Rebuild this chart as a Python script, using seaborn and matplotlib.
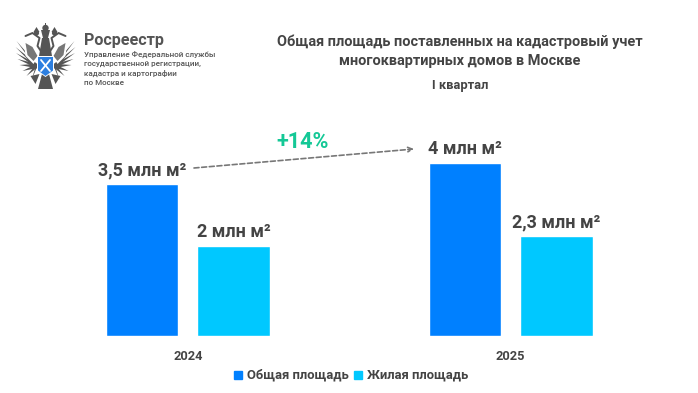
import numpy as np
import pandas as pd
import matplotlib
matplotlib.use('Agg')
import matplotlib.pyplot as plt
from matplotlib.patches import Polygon, Circle, Rectangle
import seaborn as sns

years = ['2024', '2025']
series_names = ['Общая площадь', 'Жилая площадь']
total_area = [3.5, 4.0]
living_area = [2.07, 2.3]
total_labels = ['3,5 млн м²', '4 млн м²']
living_labels = ['2 млн м²', '2,3 млн м²']
growth_label = '+14%'

colors = ['#0080ff', '#00c8ff']
text_color = '#444444'
W, H = 698, 393

df = pd.DataFrame({
    'year': years * 2,
    'area': total_area + living_area,
    'series': [series_names[0]] * 2 + [series_names[1]] * 2,
})

sns.set_theme(style='white')
plt.rcParams['font.family'] = ['Roboto', 'DejaVu Sans']

fig = plt.figure(figsize=(W / 100, H / 100), dpi=100, facecolor='white')
# оси: ноль на y=336 px, 43.3 px на единицу, центры групп на 187.7 и 510.7 px
ax = fig.add_axes([0, (H - 336) / H, 1, 236 / H])
sns.barplot(data=df, x='year', y='area', hue='series', palette=colors,
            order=years, hue_order=series_names, width=0.566, gap=0.205,
            saturation=1, legend=False, ax=ax)
ax.set_xlim(-187.7 / 323, (W - 187.7) / 323)
ax.set_ylim(0, 236 / 43.3)
ax.set_xlabel('')
ax.set_ylabel('')
ax.set_yticks([])
ax.tick_params(axis='x', length=0, pad=10, labelsize=9.2, labelcolor=text_color)
for lab in ax.get_xticklabels():
    lab.set_fontweight('bold')
sns.despine(ax=ax, left=True, bottom=True)

# подписи над столбцами
for cont, labels in zip(ax.containers, [total_labels, living_labels]):
    ax.bar_label(cont, labels=labels, padding=3.8, fontsize=13, fontweight='bold',
                 color=text_color)

# стрелка +14%
ax.annotate('', xy=(414 / W, (H - 149) / H), xytext=(194 / W, (H - 168) / H),
            xycoords='figure fraction', textcoords='figure fraction',
            arrowprops=dict(arrowstyle='->', color='#777777', lw=1.2,
                            linestyle=(0, (3, 1.6)), shrinkA=0, shrinkB=0,
                            mutation_scale=8))
fig.text(303 / W, 1 - 141.5 / H, growth_label, ha='center', va='center',
         fontsize=15.6, fontweight='bold', color='#14c896')

# заголовок
fig.text(460 / W, 1 - 42 / H, 'Общая площадь поставленных на кадастровый учет',
         ha='center', va='center', fontsize=10.45, fontweight='bold', color=text_color)
fig.text(460 / W, 1 - 61 / H, 'многоквартирных домов в Москве',
         ha='center', va='center', fontsize=10.45, fontweight='bold', color=text_color)
fig.text(460 / W, 1 - 85 / H, 'I квартал',
         ha='center', va='center', fontsize=9.3, fontweight='bold', color=text_color)

# легенда
for x0, name, col in zip([234, 354], series_names, colors):
    fig.patches.append(Rectangle((x0 / W, 1 - 379 / H), 8 / W, 8 / H,
                                 transform=fig.transFigure, color=col))
    fig.text((x0 + 13) / W, 1 - 375 / H, name, ha='left', va='center',
             fontsize=9.35, fontweight='bold', color=text_color)

# логотип
logo = fig.add_axes([0, 1 - 100 / H, 100 / W, 100 / H])
logo.set_xlim(0, 100)
logo.set_ylim(100, 0)
logo.axis('off')
grey = '#555555'
cx = 45.5
for s in (1, -1):
    # перья крыла веером
    root = (cx + s * 9, 66)
    tips = [(29, 41), (30, 47), (29.5, 53), (28, 59), (26, 65), (23, 71), (19, 76), (14, 80)]
    for tx, ty in tips:
        logo.add_patch(Polygon([(root[0], root[1] - 2.2), (cx + s * tx, ty), (root[0], root[1] + 2.2)],
                               color=grey, lw=0))
    # внутреннее крыло
    logo.add_patch(Polygon([(cx + s * 7, 56), (cx + s * 13, 45), (cx + s * 22, 40), (cx + s * 20, 56),
                            (cx + s * 12, 64)], color='white', lw=0))
    logo.add_patch(Polygon([(cx + s * 8, 56), (cx + s * 13, 47), (cx + s * 20, 43), (cx + s * 18, 55),
                            (cx + s * 12, 61)], color='#777777', lw=0))
    # шея и голова
    logo.plot([cx + s * 2, cx + s * 8, cx + s * 6, cx + s * 13, cx + s * 20],
              [55, 46, 38, 33, 36], color=grey, lw=1.4)
    logo.add_patch(Circle((cx + s * 9, 33), 2.6, color=grey, lw=0))
    # корона и лапы
    logo.add_patch(Polygon([(cx + s * 6, 32), (cx + s * 12, 32), (cx + s * 9, 27)], color=grey, lw=0))
    logo.add_patch(Polygon([(cx + s * 6, 74), (cx + s * 15, 76), (cx + s * 10, 84)], color=grey, lw=0))
# центральная корона
logo.add_patch(Polygon([(41, 30), (50, 30), (48, 38), (43, 38)], color=grey, lw=0))
logo.add_patch(Circle((cx, 28), 3.2, color=grey, lw=0))
logo.add_patch(Rectangle((cx - 0.7, 22.5), 1.4, 4, color=grey, lw=0))
# тело и хвост
logo.add_patch(Polygon([(42, 38), (49, 38), (52, 56), (39, 56)], color=grey, lw=0))
logo.add_patch(Polygon([(42, 74), (49, 74), (53, 89), (38, 89)], color=grey, lw=0))
# щит
logo.add_patch(Polygon([(37, 56), (54, 56), (54, 71), (45.5, 77), (37, 71)], color='white', lw=0))
logo.add_patch(Polygon([(38, 57), (53, 57), (53, 70.5), (45.5, 76), (38, 70.5)], color='#2d7fe0', lw=0))
logo.plot([41, 50], [60, 71], color='white', lw=1.3)
logo.plot([50, 41], [60, 71], color='white', lw=1.3)

fig.text(84 / W, 1 - 40 / H, 'Росреестр', ha='left', va='center',
         fontsize=11.6, fontweight='bold', color=grey)
for yy, line in zip([54.5, 64, 73.5, 83],
                    ['Управление Федеральной службы', 'государственной регистрации,',
                     'кадастра и картографии', 'по Москве']):
    fig.text(84 / W, 1 - yy / H, line, ha='left', va='center', fontsize=5.8,
             fontweight='medium', color=grey)

plt.savefig('out.png', dpi=100)
